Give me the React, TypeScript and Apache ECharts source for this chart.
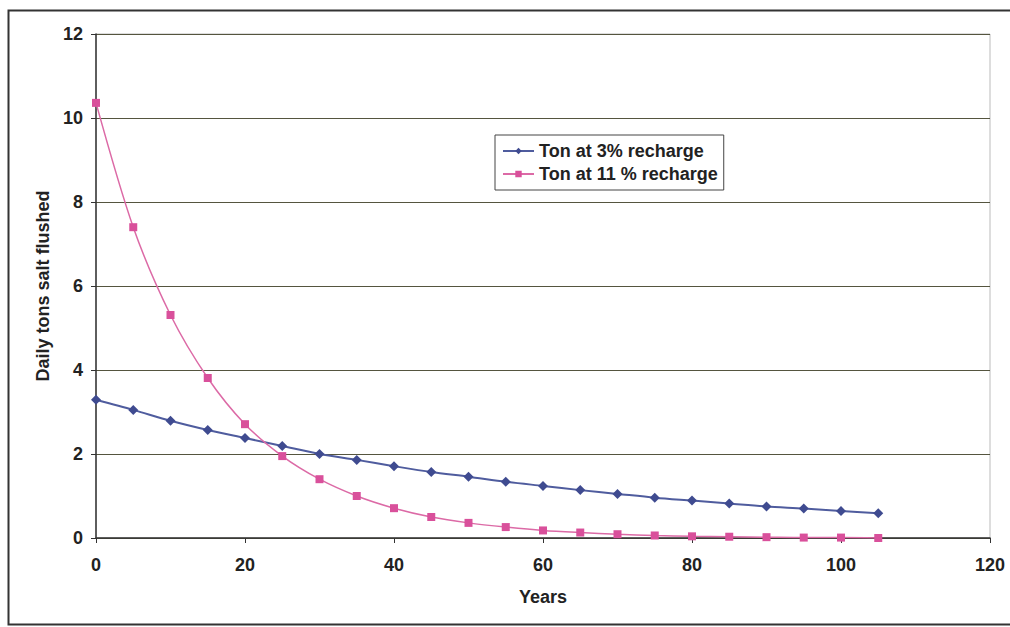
import React, { useEffect, useRef } from "react";
import * as echarts from "echarts";

const years = [0, 5, 10, 15, 20, 25, 30, 35, 40, 45, 50, 55, 60, 65, 70, 75, 80, 85, 90, 95, 100, 105];
const tons3 = [3.29, 3.05, 2.79, 2.57, 2.38, 2.19, 2.0, 1.86, 1.71, 1.57, 1.46, 1.34, 1.24, 1.14, 1.05, 0.96, 0.89, 0.82, 0.75, 0.7, 0.64, 0.59];
const tons11 = [10.36, 7.4, 5.31, 3.81, 2.71, 1.95, 1.4, 1.0, 0.71, 0.5, 0.36, 0.26, 0.18, 0.13, 0.09, 0.06, 0.04, 0.03, 0.02, 0.01, 0.01, 0.0];
const seriesNames = ["Ton at 3% recharge", "Ton at 11 % recharge"];

export default function App() {
  const ref = useRef<HTMLDivElement>(null);
  useEffect(() => {
    document.body.style.margin = "0";
    const chart = echarts.init(ref.current!, null, { renderer: "svg" });
    const font = "'Liberation Sans', Arial, sans-serif";
    const txt = { fontSize: 18, color: "#222", fontWeight: "bold", fontFamily: font };
    chart.setOption({
      animation: false,
      backgroundColor: "#fff",
      textStyle: { fontFamily: font },
      graphic: [
        {
          type: "rect",
          shape: { x: 8.5, y: 10.5, width: 1010, height: 614 },
          style: { fill: "none", stroke: "#333", lineWidth: 2 },
          z: 0,
        },
      ],
      grid: { left: 96, right: 20, top: 34, bottom: 89, show: true, borderColor: "#bbb", borderWidth: 1 },
      legend: {
        orient: "vertical",
        left: 495,
        top: 135,
        itemWidth: 31,
        itemHeight: 8,
        itemGap: 5,
        padding: [7, 6, 7, 7],
        borderColor: "#444",
        borderWidth: 1,
        textStyle: txt,
        data: seriesNames,
      },
      xAxis: {
        type: "value",
        min: 0,
        max: 120,
        interval: 20,
        name: "Years",
        nameLocation: "middle",
        nameGap: 50,
        nameTextStyle: txt,
        axisLine: { lineStyle: { color: "#333", width: 1.5 } },
        axisTick: { show: true, length: 5, lineStyle: { color: "#333" } },
        axisLabel: { ...txt, margin: 18 },
        splitLine: { show: false },
      },
      yAxis: {
        type: "value",
        min: 0,
        max: 12,
        interval: 2,
        name: "Daily tons salt flushed",
        nameLocation: "middle",
        nameGap: 40,
        nameTextStyle: txt,
        axisLine: { show: true, lineStyle: { color: "#333", width: 1.5 } },
        axisTick: { show: true, length: 5, lineStyle: { color: "#333" } },
        axisLabel: { ...txt, margin: 13 },
        splitLine: { show: true, lineStyle: { color: "#55553f", width: 1.2 } },
      },
      series: [
        {
          name: seriesNames[0],
          type: "line",
          data: years.map((x, i) => [x, tons3[i]]),
          smooth: 0.3,
          symbol: "diamond",
          symbolSize: 10,
          itemStyle: { color: "#3f4b90" },
          lineStyle: { color: "#4f5c9e", width: 2 },
        },
        {
          name: seriesNames[1],
          type: "line",
          data: years.map((x, i) => [x, tons11[i]]),
          smooth: 0.3,
          symbol: "rect",
          symbolSize: 8,
          itemStyle: { color: "#d9509b" },
          lineStyle: { color: "#dc6aa6", width: 1.5 },
        },
      ],
    });
    return () => chart.dispose();
  }, []);
  return <div ref={ref} style={{ width: 1010, height: 627 }} />;
}
